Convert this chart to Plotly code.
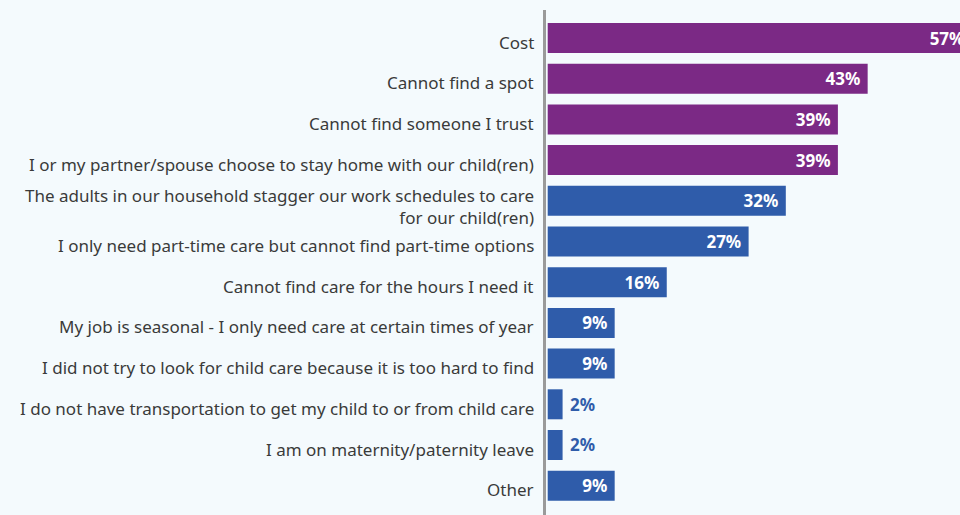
import plotly.graph_objects as go

# Reasons for not using child care (share of respondents, %)
categories = [
    "Cost",
    "Cannot find a spot",
    "Cannot find someone I trust",
    "I or my partner/spouse choose to stay home with our child(ren)",
    "The adults in our household stagger our work schedules to care<br>for our child(ren)",
    "I only need part-time care but cannot find part-time options",
    "Cannot find care for the hours I need it",
    "My job is seasonal - I only need care at certain times of year",
    "I did not try to look for child care because it is too hard to find",
    "I do not have transportation to get my child to or from child care",
    "I am on maternity/paternity leave",
    "Other",
]
values = [57, 43, 39, 39, 32, 27, 16, 9, 9, 2, 2, 9]
groups = ["top", "top", "top", "top", "other", "other", "other", "other", "other", "other", "other", "other"]

PURPLE = "#7b2985"
BLUE = "#2f5caa"
BG = "#f4fafd"
NBSP = "\u00a0"

colors = [PURPLE if g == "top" else BLUE for g in groups]
inside = [v >= 5 for v in values]
labels = [f"{v}%{NBSP}" if ins else f"{NBSP}{v}%" for v, ins in zip(values, inside)]
positions = ["inside" if ins else "outside" for ins in inside]
text_colors = ["white" if ins else c for ins, c in zip(inside, colors)]
ypos = list(range(len(categories)))

fig = go.Figure(
    go.Bar(
        x=values,
        y=ypos,
        orientation="h",
        marker=dict(color=colors, line=dict(width=0)),
        text=labels,
        textposition=positions,
        insidetextanchor="end",
        textfont=dict(family="Noto Sans", size=17, color=text_colors, weight="bold"),
        cliponaxis=True,
        hoverinfo="skip",
    )
)

# Category labels, right-aligned against the axis line
for yi, name in zip(ypos, categories):
    multiline = "<br>" in name
    fig.add_annotation(
        x=0, xref="paper", xanchor="right", xshift=-10,
        y=yi, yref="y", yanchor="middle", yshift=-6 if multiline else -4,
        text=name, showarrow=False, align="right",
        font=dict(family="Noto Sans", size=17, color="#3a3a3a"),
    )

fig.update_layout(
    width=960,
    height=515,
    margin=dict(l=546, r=0, t=10, b=0),
    paper_bgcolor=BG,
    plot_bgcolor=BG,
    bargap=0.263,
    showlegend=False,
    font=dict(family="Noto Sans", size=17, color="#3a3a3a"),
)

fig.update_xaxes(
    range=[-0.23, 55.41],
    showgrid=False,
    zeroline=False,
    showticklabels=False,
    showline=False,
)

fig.update_yaxes(
    range=[11.72, -0.688],
    showticklabels=False,
    showgrid=False,
    zeroline=False,
    showline=True,
    linecolor="#9a9a9a",
    linewidth=3,
    ticks="",
)

fig.write_html("out.html")
